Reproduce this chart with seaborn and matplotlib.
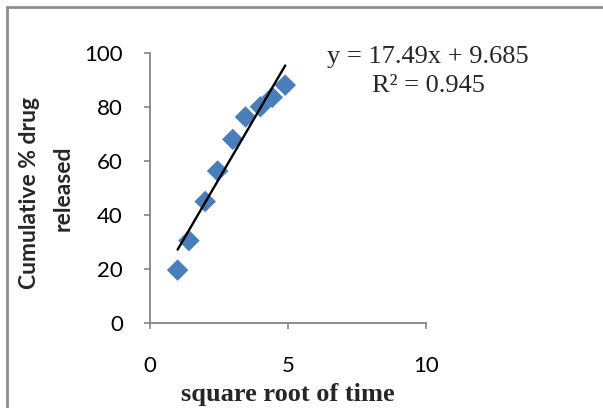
import numpy as np
import pandas as pd
import matplotlib
matplotlib.use('Agg')
import matplotlib.pyplot as plt
import seaborn as sns
from matplotlib.patches import Rectangle

# data
sqrt_time = [1.0, 1.41, 2.0, 2.45, 3.0, 3.46, 4.0, 4.43, 4.9]
cum_release = [19.6, 30.5, 45.0, 56.3, 68.0, 76.3, 80.1, 83.6, 88.1]
slope = 17.49
intercept = 9.685
r_squared = 0.945
x_ticks = [0, 5, 10]
y_ticks = [0, 20, 40, 60, 80, 100]

df = pd.DataFrame({'sqrt_time': sqrt_time, 'release': cum_release})

sns.set_style('white')
plt.rcParams['font.family'] = ['Lato', 'DejaVu Sans']

fig = plt.figure(figsize=(6.03, 4.08), dpi=100)
ax = fig.add_axes([150 / 603, 1 - 323 / 408, 276 / 603, 270 / 408])

sns.scatterplot(x='sqrt_time', y='release', data=df, ax=ax, marker='D', s=120,
                color='#4A7EBB', edgecolor='none', zorder=2)

# linear trendline over the data range
xs = np.array([min(sqrt_time), max(sqrt_time)])
ax.plot(xs, slope * xs + intercept, color='black', lw=1.7, zorder=3)

ax.set_xlim(0, 10)
ax.set_ylim(0, 100)
ax.set_xticks(x_ticks)
ax.set_yticks(y_ticks)
ax.tick_params(axis='both', labelsize=16, colors='#868686', labelcolor='black',
               length=4.5, width=1.2, direction='out', left=True, bottom=True)
ax.tick_params(axis='y', pad=15)
ax.tick_params(axis='x', pad=19)
for side in ['top', 'right']:
    ax.spines[side].set_visible(False)
for side in ['left', 'bottom']:
    ax.spines[side].set_color('#868686')
    ax.spines[side].set_linewidth(1.3)
ax.set_xlabel('')
ax.set_ylabel('')

# axis titles
fig.text(288 / 603, 1 - 394 / 408, 'square root of time', ha='center', va='center',
         fontsize=19, fontweight='bold', family='Liberation Serif')
fig.text(29 / 603, 1 - 193 / 408, 'Cumulative % drug', ha='center', va='center',
         rotation=90, fontsize=16.5, fontweight='bold')
fig.text(63 / 603, 1 - 188 / 408, 'released', ha='center', va='center',
         rotation=90, fontsize=16.5, fontweight='bold')

# trendline label
fig.text(428 / 603, 1 - 57 / 408, f'y = {slope}x + {intercept}', ha='center', va='center',
         fontsize=19, family='Liberation Serif')
fig.text(428 / 603, 1 - 86 / 408, f'R² = {r_squared}', ha='center', va='center',
         fontsize=19, family='Liberation Serif')

# chart area border
fig.patches.append(Rectangle((7 / 603, -0.2), 1.2, 1.2 - 7 / 408, transform=fig.transFigure,
                             fill=False, edgecolor='#8c8c8c', lw=2))

fig.savefig('out.png', dpi=100)
